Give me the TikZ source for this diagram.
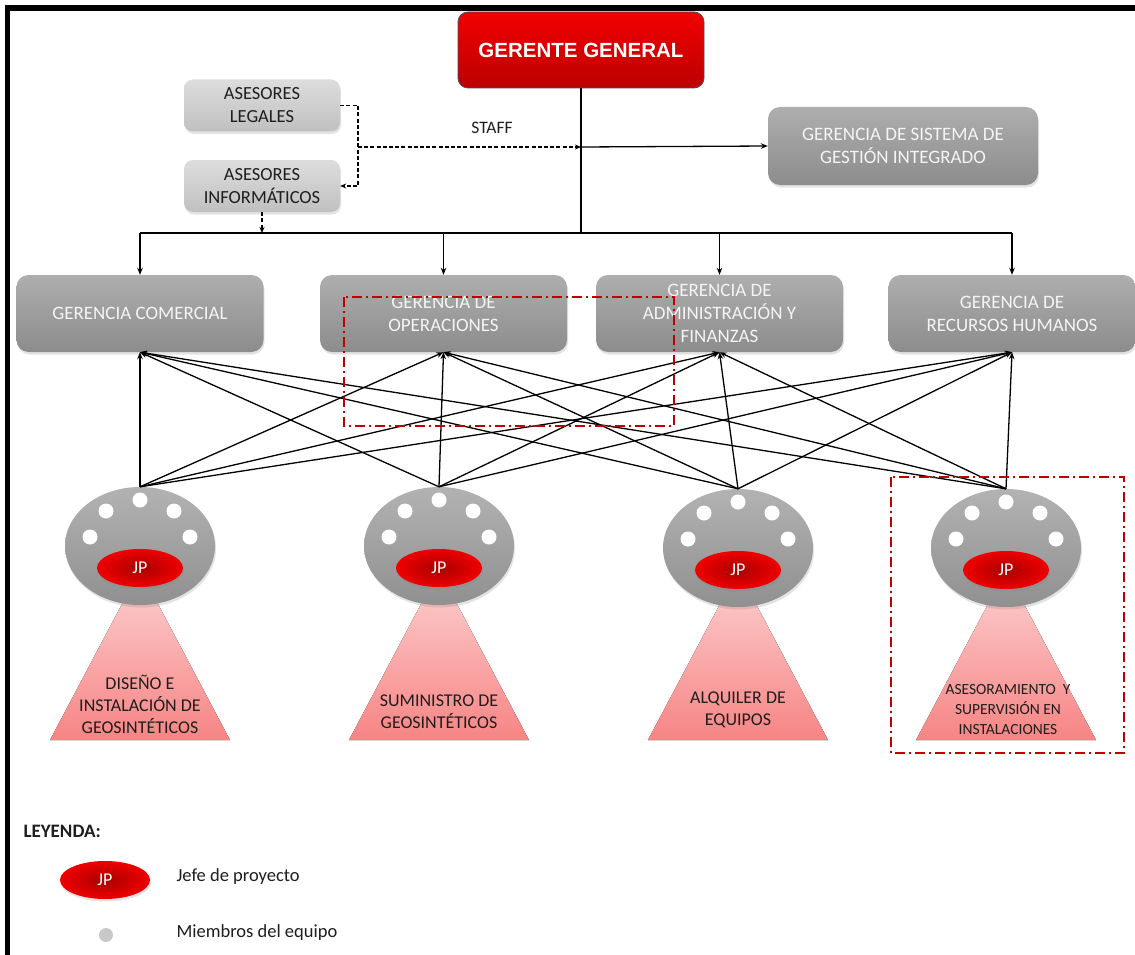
\documentclass[tikz,border=0pt]{standalone}
\usepackage{fontspec}
\setmainfont{Carlito}
\newfontfamily\headfont{Liberation Sans}
\usetikzlibrary{shapes.geometric,arrows.meta,shadows}

\definecolor{topred}{HTML}{F20000}
\definecolor{lowred}{HTML}{BC0000}
\definecolor{ggedge}{HTML}{4A4F66}
\definecolor{jpdark}{HTML}{A80000}
\definecolor{jplight}{HTML}{F00000}
\definecolor{mgrtop}{HTML}{AEAEAE}
\definecolor{mgrbot}{HTML}{8C8C8C}
\definecolor{advtop}{HTML}{DDDDDD}
\definecolor{advbot}{HTML}{C0C0C0}
\definecolor{teamtop}{HTML}{B2B2B2}
\definecolor{teambot}{HTML}{909090}
\definecolor{tritop}{HTML}{FDD2D2}
\definecolor{tribot}{HTML}{F78484}
\definecolor{framered}{HTML}{C00000}
\definecolor{darktext}{HTML}{1E1E1E}
\definecolor{lighttext}{HTML}{F4F4F4}
\definecolor{dotgray}{HTML}{C8C8C8}

\tikzset{
  softshadow/.style={drop shadow={opacity=0.22,shadow xshift=1pt,shadow yshift=-2.5pt}},
  ggbox/.style={rounded corners=10pt, top color=topred, bottom color=lowred,
    draw=ggedge, line width=0.8pt, minimum width=246pt, minimum height=76pt,
    inner sep=0pt, text=white, font=\headfont\bfseries\fontsize{20.5}{24}\selectfont},
  mgrbox/.style={rounded corners=12pt, top color=mgrtop, bottom color=mgrbot,
    minimum width=247pt, minimum height=77pt, inner sep=0pt, align=center,
    text=lighttext, font=\fontsize{19}{23}\selectfont, softshadow},
  advbox/.style={rounded corners=9pt, top color=advtop, bottom color=advbot,
    minimum width=156pt, minimum height=52pt, inner sep=0pt, align=center,
    text=darktext, font=\fontsize{18.5}{23}\selectfont, softshadow},
  teamoval/.style={ellipse, inner sep=0pt, minimum width=150pt, minimum height=118pt,
    top color=teamtop, bottom color=teambot, softshadow},
  member/.style={circle, fill=white, inner sep=0pt, minimum size=15pt},
  jpoval/.style={ellipse, inner sep=0pt, minimum width=86pt, minimum height=38pt,
    inner color=jpdark, outer color=jplight, text=white,
    font=\fontsize{18}{21}\selectfont, softshadow},
  unitlabel/.style={align=center, text=darktext, font=\fontsize{18}{22}\selectfont},
  link/.style={line width=1.3pt, -{Stealth[length=7pt,width=5.5pt]}},
  plainline/.style={line width=1.3pt},
  staffline/.style={line width=1.5pt, dash pattern=on 4pt off 2.2pt},
  groupframe/.style={draw=framered, line width=1.3pt,
    dash pattern=on 10pt off 4pt on 2pt off 4pt},
  legendtext/.style={anchor=west, text=darktext, font=\fontsize{18.5}{22}\selectfont}
}

\begin{document}
\begin{tikzpicture}[x=1pt,y=-1pt]
\useasboundingbox (0,0) rectangle (1135,955);
\fill[white] (-10,-10) rectangle (1145,965);

% outer frame (left and top edges)
\draw[line width=5.5pt, line join=miter] (7.5,965) -- (7.5,8) -- (1145,8);

% general manager and staff
\node[ggbox] (gg) at (581,50) {GERENTE GENERAL};
\node[advbox] (al) at (262,105.5) {ASESORES\\LEGALES};
\node[advbox] (ai) at (262,186) {ASESORES\\INFORMÁTICOS};
\node[mgrbox, minimum width=270pt, minimum height=78pt] (sgi) at (903,146)
  {GERENCIA DE SISTEMA DE\\GESTIÓN INTEGRADO};
\node[text=darktext, font=\fontsize{17.5}{21}\selectfont] (staff) at (492,128) {STAFF};

% managers
\node[mgrbox] (g1) at (140,313.5) {GERENCIA COMERCIAL};
\node[mgrbox] (g2) at (443.5,313.5) {GERENCIA DE\\OPERACIONES};
\node[mgrbox] (g3) at (719.5,313.5) {GERENCIA DE\\ADMINISTRACIÓN Y\\FINANZAS};
\node[mgrbox] (g4) at (1012,313.5) {GERENCIA DE\\RECURSOS HUMANOS};

% reporting lines from the top
\coordinate (busy) at (0,233);
\coordinate (sj) at (358,147);
\draw[plainline] (gg.south) -- (gg.south |- busy);
\draw[plainline] (g1.north |- busy) -- (g4.north |- busy);
\foreach \g in {g1,g2,g3,g4}
  \draw[link] (\g.north |- busy) -- (\g.north);

% staff connections
\draw[staffline, -{Stealth[length=6pt,width=5pt]}]
  (al.east) -- (al.east -| sj) -- (ai.east -| sj) -- (ai.east);
\draw[staffline, -{Stealth[length=6pt,width=5pt]}] (sj) -- (sj -| gg.south);
\draw[link] (sj -| gg.south) -- (sgi.west);
\draw[staffline, -{Stealth[length=6pt,width=5pt]}] (ai.south) -- (ai.south |- busy);

% project teams
\foreach \i/\cx/\cy in {1/140/546, 2/439/546, 3/738/548, 4/1006/548}{
  \fill[top color=tritop, bottom color=tribot]
    (\cx,570) -- (\cx+90,740) -- (\cx-90,740) -- cycle;
  \node[teamoval] (e\i) at (\cx,\cy) {};
  \node[member] (m\i a) at (\cx,\cy-46) {};
  \node[member] (m\i b) at (\cx-34,\cy-35) {};
  \node[member] (m\i c) at (\cx+34,\cy-35) {};
  \node[member] (m\i d) at (\cx-50,\cy-9) {};
  \node[member] (m\i e) at (\cx+50,\cy-9) {};
  \node[jpoval] (j\i) at (\cx,\cy+22) {JP};
}

\node[unitlabel] (t1) at (140,704) {DISEÑO E\\INSTALACIÓN DE\\GEOSINTÉTICOS};
\node[unitlabel] (t2) at (439,712) {SUMINISTRO DE\\GEOSINTÉTICOS};
\node[unitlabel] (t3) at (738,710) {ALQUILER DE\\EQUIPOS};
\node[unitlabel, font=\fontsize{15.5}{20}\selectfont] (t4) at (1008,710)
  {ASESORAMIENTO\ \ Y\\SUPERVISIÓN EN\\INSTALACIONES};

% every team reports to every manager
\foreach \i in {1,...,4}
  \foreach \j in {1,...,4}
    \draw[link] (e\i.north) -- (g\j.south);

% highlighted groups
\draw[groupframe] (344,297) rectangle (674,426);
\draw[groupframe] (891,477) rectangle (1124,753);

% legend
\node[anchor=west, text=darktext, font=\bfseries\fontsize{19}{22}\selectfont] (ley) at (20,831) {LEYENDA:};
\node[jpoval, minimum width=90pt] (ljp) at (105,880) {JP};
\node[legendtext] (ljt) at (173,877) {Jefe de proyecto};
\node[circle, fill=dotgray, inner sep=0pt, minimum size=14pt] (ldot) at (106,935) {};
\node[legendtext] (ldt) at (173,933) {Miembros del equipo};
\end{tikzpicture}
\end{document}
